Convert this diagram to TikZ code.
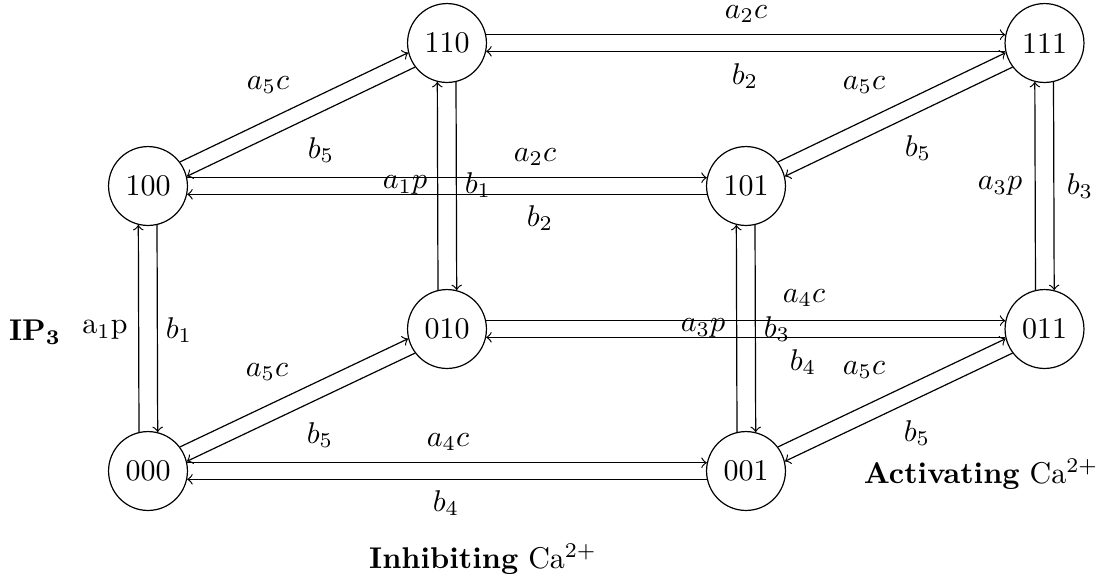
\documentclass[tikz,border=0pt]{standalone}
\begin{document}
\begin{tikzpicture}[x=0.33333pt,y=-0.33333pt,
  state/.style={draw,circle,minimum size=26.3pt,inner sep=0pt},
  lab/.style={inner sep=0pt},
  link/.style={->}]
\useasboundingbox (0,0) rectangle (1109,579);
% states
\node[state] (n110) at (447,43) {110};
\node[state] (n111) at (1044.5,43) {111};
\node[state] (n100) at (148,186) {100};
\node[state] (n101) at (746,186) {101};
\node[state] (n010) at (447,329) {010};
\node[state] (n011) at (1044.5,329) {011};
\node[state] (n000) at (148,471) {000};
\node[state] (n001) at (746,471) {001};
% horizontal pairs
\draw[link] (n110.12) -- (n111.168);
\draw[link] (n111.192) -- (n110.-12);
\draw[link] (n100.12) -- (n101.168);
\draw[link] (n101.192) -- (n100.-12);
\draw[link] (n010.12) -- (n011.168);
\draw[link] (n011.192) -- (n010.-12);
\draw[link] (n000.12) -- (n001.168);
\draw[link] (n001.192) -- (n000.-12);
% vertical pairs
\draw[link] (n000.103.5) -- (n100.256.5);
\draw[link] (n100.283.5) -- (n000.76.5);
\draw[link] (n010.103.5) -- (n110.256.5);
\draw[link] (n110.283.5) -- (n010.76.5);
\draw[link] (n001.103.5) -- (n101.256.5);
\draw[link] (n101.283.5) -- (n001.76.5);
\draw[link] (n011.103.5) -- (n111.256.5);
\draw[link] (n111.283.5) -- (n011.76.5);
% diagonal pairs
\draw[link] (n100.37) -- (n110.194);
\draw[link] (n110.217) -- (n100.14);
\draw[link] (n101.37) -- (n111.194);
\draw[link] (n111.217) -- (n101.14);
\draw[link] (n000.37) -- (n010.194);
\draw[link] (n010.217) -- (n000.14);
\draw[link] (n001.37) -- (n011.194);
\draw[link] (n011.217) -- (n001.14);
% labels
\node[lab] (l1) at (746,14) {$a_2c$};
\node[lab] (l2) at (745,76) {$b_2$};
\node[lab] (l3) at (535,157) {$a_2c$};
\node[lab] (l4) at (540,218) {$b_2$};
\node[lab] (l5) at (804,298) {$a_4c$};
\node[lab] (l6) at (803,362) {$b_4$};
\node[lab] (l7) at (448,442) {$a_4c$};
\node[lab] (l8) at (446,503) {$b_4$};
\node[lab] (l9) at (268,85) {$a_5c$};
\node[lab] (l10) at (321,150) {$b_5$};
\node[lab] (l11) at (864,85) {$a_5c$};
\node[lab] (l12) at (918,148) {$b_5$};
\node[lab] (l13) at (267,372) {$a_5c$};
\node[lab] (l14) at (320,435) {$b_5$};
\node[lab] (l15) at (864,370) {$a_5c$};
\node[lab] (l16) at (917,433) {$b_5$};
\node[lab] (l17) at (405,185) {$a_1p$};
\node[lab] (l18) at (478,185) {$b_1$};
\node[lab] (l19) at (1000,186) {$a_3p$};
\node[lab] (l20) at (1080,186) {$b_3$};
\node[lab] (l21) at (703,328) {$a_3p$};
\node[lab] (l22) at (777,329) {$b_3$};
\node[lab] (l23) at (105,330) {a$_1$p};
\node[lab] (l24) at (179,330) {$b_1$};
\node[lab] (l25) at (35,332) {\textbf{IP$_\mathbf{3}$}};
\node[lab] (l26) at (981,474) {\textbf{Activating} Ca$^{2+}$};
\node[lab] (l27) at (483,559) {\textbf{Inhibiting} Ca$^{2+}$};
\end{tikzpicture}
\end{document}
